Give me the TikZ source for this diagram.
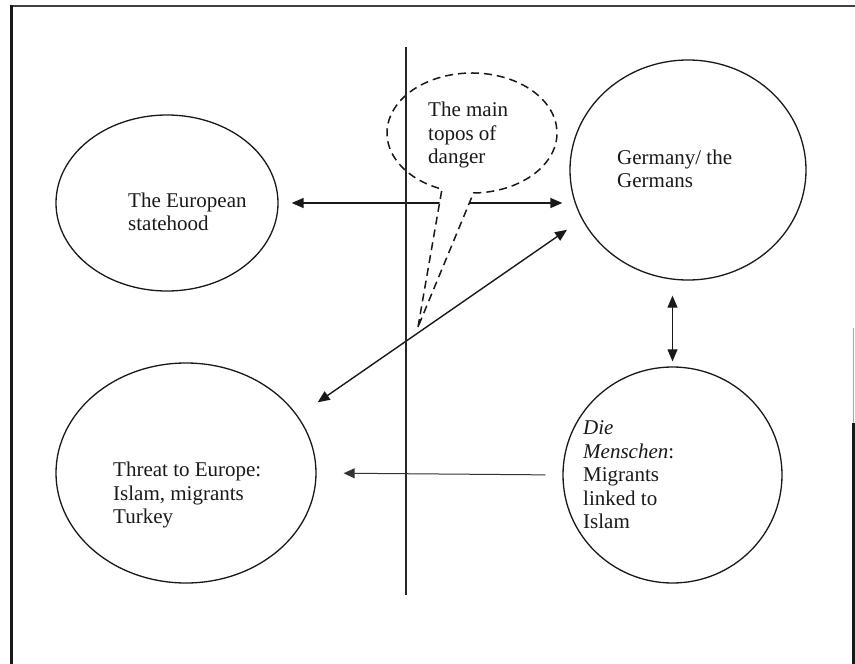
\documentclass[tikz,border=0pt]{standalone}
\usepackage{fontspec}
\setmainfont{Liberation Serif}
\usetikzlibrary{arrows.meta,shapes.geometric,calc}
\begin{document}
\begin{tikzpicture}[x=1pt,y=-1pt,
  topic/.style={draw=black!90, line width=1.3pt, ellipse, inner sep=0pt},
  lbl/.style={align=left, inner sep=0pt, anchor=west, text=black!90,
    font=\fontsize{21}{23.5}\selectfont},
  tipbig/.tip={Triangle[length=12pt,width=10pt]},
  biarrow/.style={line width=1.4pt, draw=black!90, tipbig-tipbig},
  thinarrow/.style={line width=1pt, draw=black!80, -{Triangle[length=11pt,width=10pt]}},
  callout/.style={dashed, dash pattern=on 8pt off 5pt, line width=1.5pt, draw=black!90, fill=white},
  axisline/.style={line width=1.2pt, draw=black!85}
]
\useasboundingbox (0,0) rectangle (855,664);

% page frame
\draw[line width=2pt, draw=black!75] (10,6) -- (855,6);
\draw[line width=3.5pt, draw=black!90] (11.5,5) -- (11.5,664);
\draw[line width=1.5pt, draw=black!35] (853.5,328) -- (853.5,423);
\draw[line width=3pt, draw=black!90] (853.5,423) -- (853.5,664);

% the four topics
\node[topic, minimum width=222pt, minimum height=176pt] (euro) at (167,203) {};
\node[topic, minimum width=236pt, minimum height=220pt] (germany) at (688,170) {};
\node[topic, minimum width=260pt, minimum height=220pt] (threat) at (186,473) {};
\node[topic, minimum width=219pt, minimum height=216pt] (menschen) at (672.5,475) {};

\node[lbl] (euroText) at (128,212) {The European\\statehood};
\node[lbl] (germanyText) at (617,169) {Germany/ the\\Germans};
\node[lbl] (threatText) at (113,495) {Threat to Europe:\\Islam, migrants\\Turkey};
\node[lbl] (menschenText) at (583,475) {\textit{Die}\\\textit{Menschen}:\\Migrants\\linked to\\Islam};

% connectors
\draw[biarrow, shorten <=13pt, shorten >=7pt] (euro.east) -- (euro.east -| germany.west);
\draw[biarrow, shorten <=24pt, shorten >=18pt] (threat.27.4) -- (germany.205.8);
\draw[biarrow, line width=1pt, shorten <=15pt, shorten >=5pt] (menschen.north |- germany.south) -- (menschen.north);
\draw[thinarrow, shorten <=17pt, shorten >=27pt] (menschen.west) -- (threat.east);

% speech bubble of the main topos
\coordinate (tip) at (418,327);
\path[callout] (tip) -- ($(472,133)+(110.7:85 and 60)$)
  arc[start angle=110.7, end angle=449, x radius=85, y radius=60] -- cycle;
\node[lbl] (danger) at (428,135) {The main\\topos of\\danger};

% dividing axis
\coordinate (vtop) at (406,47);
\coordinate (vbot) at (406,595);
\draw[axisline] (vtop) -- (vbot);
\end{tikzpicture}
\end{document}
